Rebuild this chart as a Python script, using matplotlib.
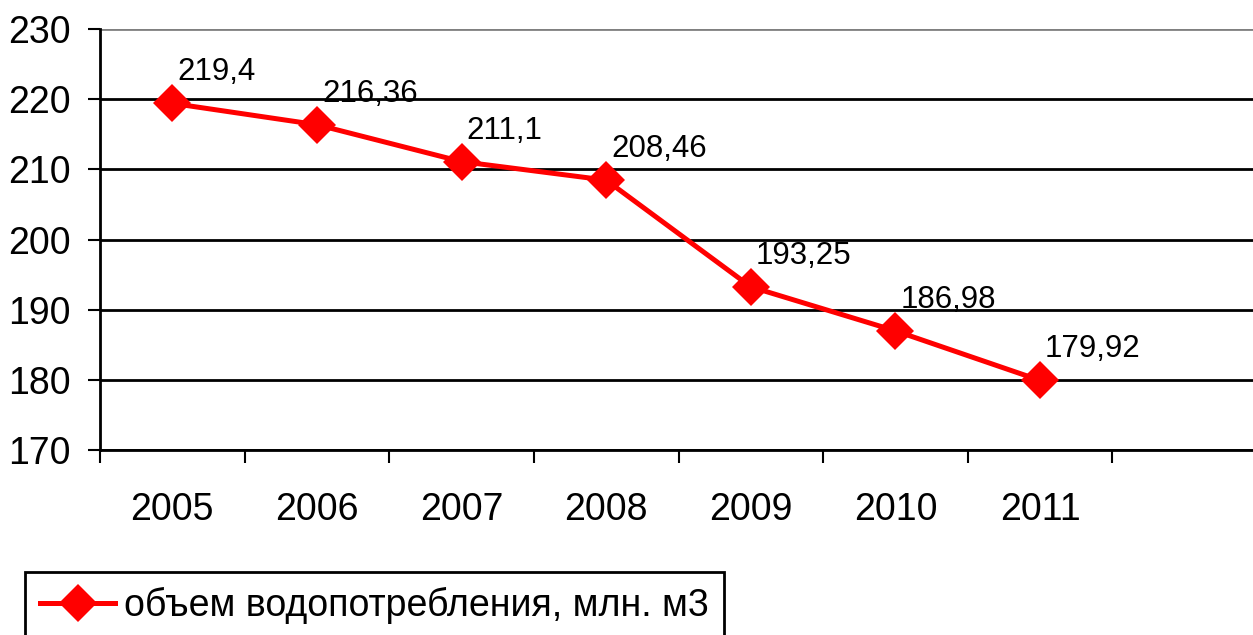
import matplotlib
matplotlib.use("Agg")
import matplotlib.pyplot as plt
from matplotlib.ticker import FixedLocator

plt.rcParams['font.family'] = ['Liberation Sans', 'DejaVu Sans']

years = ["2005", "2006", "2007", "2008", "2009", "2010", "2011"]
volume = [219.4, 216.36, 211.1, 208.46, 193.25, 186.98, 179.92]
labels = ["219,4", "216,36", "211,1", "208,46", "193,25", "186,98", "179,92"]
series_name = "объем водопотребления, млн. м3"

fig = plt.figure(figsize=(12.53, 6.35), dpi=100)
ax = fig.add_axes([100 / 1253, 185 / 635, 1157 / 1253, 421 / 635])

x = list(range(len(years)))
line, = ax.plot(x, volume, color="#ff0000", lw=3.6, marker="D",
                markersize=19, markeredgewidth=0, zorder=5,
                clip_on=False, label=series_name)

for xi, yi, txt in zip(x, volume, labels):
    ax.annotate(txt, (xi, yi), xytext=(5, 16), textcoords="offset pixels",
                ha="left", va="bottom", fontsize=22.5, zorder=6)

ax.set_xlim(-0.5, 7.5)
ax.set_ylim(170, 230)
ax.set_yticks(range(170, 231, 10))
ax.tick_params(axis="y", labelsize=27, length=9, width=1.5, pad=12)

ax.set_xticks(x)
ax.set_xticklabels(years)
ax.xaxis.set_minor_locator(FixedLocator([i - 0.5 for i in range(9)]))
ax.tick_params(axis="x", which="major", length=0, labelsize=27, pad=30)
ax.tick_params(axis="x", which="minor", length=9, width=1.5)

ax.grid(axis="y", color="black", lw=2)
ax.get_ygridlines()[-1].set_color("#808080")
ax.set_axisbelow(True)
for side in ["top", "right"]:
    ax.spines[side].set_visible(False)
ax.spines["left"].set_linewidth(2)
ax.spines["bottom"].set_linewidth(2)

leg = fig.legend(handles=[line], loc="upper left",
                 bbox_to_anchor=(25 / 1253, 1 - 572 / 635), fontsize=27,
                 frameon=True, fancybox=False, edgecolor="black",
                 framealpha=1, handlelength=2.0, handletextpad=0.25,
                 borderpad=0.4, borderaxespad=0)
leg.get_frame().set_linewidth(2)

fig.savefig("out.png", dpi=100)
